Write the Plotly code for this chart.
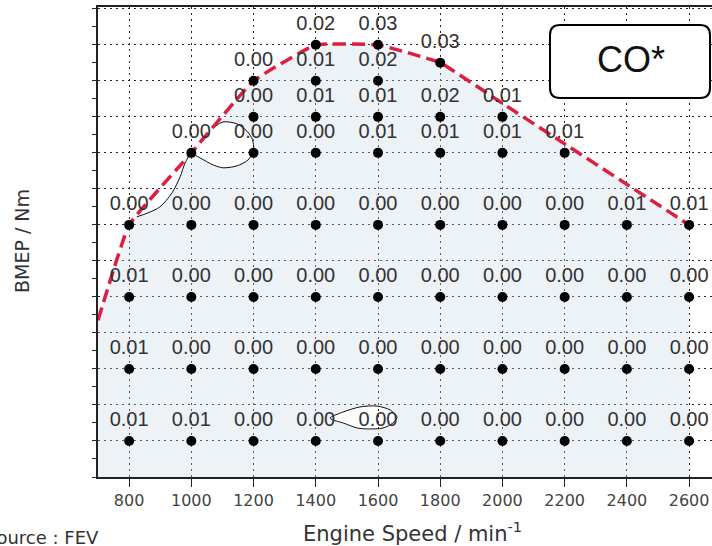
import plotly.graph_objects as go

# Measured operating points: engine speed (min^-1), BMEP level, CO value
speed = [1400, 1600,
         1800,
         1200, 1400, 1600,
         1200, 1400, 1600, 1800, 2000,
         1000, 1200, 1400, 1600, 1800, 2000, 2200,
         800, 1000, 1200, 1400, 1600, 1800, 2000, 2200, 2400, 2600,
         800, 1000, 1200, 1400, 1600, 1800, 2000, 2200, 2400, 2600,
         800, 1000, 1200, 1400, 1600, 1800, 2000, 2200, 2400, 2600,
         800, 1000, 1200, 1400, 1600, 1800, 2000, 2200, 2400, 2600]
bmep = [24, 24,
        23,
        22, 22, 22,
        20, 20, 20, 20, 20,
        18, 18, 18, 18, 18, 18, 18,
        14, 14, 14, 14, 14, 14, 14, 14, 14, 14,
        10, 10, 10, 10, 10, 10, 10, 10, 10, 10,
        6, 6, 6, 6, 6, 6, 6, 6, 6, 6,
        2, 2, 2, 2, 2, 2, 2, 2, 2, 2]
co = [0.02, 0.03,
      0.03,
      0.00, 0.01, 0.02,
      0.00, 0.01, 0.01, 0.02, 0.01,
      0.00, 0.00, 0.00, 0.01, 0.01, 0.01, 0.01,
      0.00, 0.00, 0.00, 0.00, 0.00, 0.00, 0.00, 0.00, 0.01, 0.01,
      0.01, 0.00, 0.00, 0.00, 0.00, 0.00, 0.00, 0.00, 0.00, 0.00,
      0.01, 0.00, 0.00, 0.00, 0.00, 0.00, 0.00, 0.00, 0.00, 0.00,
      0.01, 0.01, 0.00, 0.00, 0.00, 0.00, 0.00, 0.00, 0.00, 0.00]

# Full-load boundary
full_load_speed = [700, 800, 1000, 1200, 1400, 1600, 1800, 2000, 2200, 2400, 2600]
full_load_bmep = [8.7, 14, 18, 22, 24, 24, 23, 20.75, 18.5, 16.25, 14]

# Contour outlines of the low-value pockets
contour_a_speed = [1075, 1102, 1147, 1179, 1196, 1200, 1182, 1147, 1102, 1070, 1028, 1000,
                   980, 964, 938, 899, 861, 825]
contour_a_bmep = [19.45, 19.72, 19.61, 19.2, 18.75, 18.15, 17.6, 17.28, 17.17, 17.33, 17.72, 17.95,
                  17.44, 16.67, 15.78, 15.0, 14.67, 14.45]
contour_b_speed = [1446, 1488, 1542, 1597, 1639, 1661, 1648, 1616, 1565, 1533, 1488, 1455, 1446]
contour_b_bmep = [3.28, 3.61, 3.89, 3.94, 3.72, 3.33, 3.0, 2.72, 2.67, 2.72, 3.0, 3.17, 3.28]

X_RANGE = [700, 2673.6]
Y_RANGE = [0, 26.1]
LABEL_LIFT = 1.1  # label offset above each point, in BMEP units
SANS = "DejaVu Sans, sans-serif"


def signed_area(xs, ys):
    s = 0.0
    n = len(xs)
    for i in range(n):
        j = (i + 1) % n
        s += xs[i] * ys[j] - xs[j] * ys[i]
    return s / 2


def oriented(xs, ys, positive):
    a = signed_area(xs, ys)
    if (a > 0) != positive:
        return xs[::-1], ys[::-1]
    return list(xs), list(ys)


# Operating region: area under the full-load line with the pockets cut out
outer_x = full_load_speed + [full_load_speed[-1], full_load_speed[0]]
outer_y = full_load_bmep + [0, 0]
ox, oy = oriented(outer_x, outer_y, True)
ax_, ay_ = oriented(contour_a_speed, contour_a_bmep, False)
bx_, by_ = oriented(contour_b_speed, contour_b_bmep, False)
region_x = ox + [None] + ax_ + [None] + bx_
region_y = oy + [None] + ay_ + [None] + by_

fig = go.Figure()

fig.add_trace(go.Scatter(
    x=region_x, y=region_y, mode="lines", fill="toself",
    fillcolor="rgba(200,215,230,0.33)", line=dict(width=0),
    hoverinfo="skip", showlegend=False))

for cx, cy in [(contour_a_speed, contour_a_bmep), (contour_b_speed, contour_b_bmep)]:
    fig.add_trace(go.Scatter(
        x=cx, y=cy, mode="lines",
        line=dict(color="#111111", width=1, shape="spline", smoothing=0.8),
        hoverinfo="skip", showlegend=False))

fig.add_trace(go.Scatter(
    x=full_load_speed, y=full_load_bmep, mode="lines",
    line=dict(color="#dc1f3f", width=3.5, dash="13px,6px", shape="spline", smoothing=0.3),
    hoverinfo="skip", showlegend=False))

fig.add_trace(go.Scatter(
    x=speed, y=bmep, mode="markers",
    marker=dict(color="black", size=10),
    showlegend=False))

fig.add_trace(go.Scatter(
    x=speed, y=[b + LABEL_LIFT for b in bmep], mode="text",
    text=[f"{v:.2f}" for v in co], textposition="middle center",
    textfont=dict(family="Liberation Sans, Arial", size=20, color="#333333"),
    hoverinfo="skip", showlegend=False))

# Tag box with rounded corners (paper coordinates)
PLOT_W, PLOT_H = 614, 470
x0, x1 = (550 - 98) / PLOT_W, (710 - 98) / PLOT_W
y0, y1 = (477 - 98) / PLOT_H, (477 - 25) / PLOT_H
rx, ry = 10 / PLOT_W, 10 / PLOT_H
box_path = (f"M{x0 + rx},{y1} L{x1 - rx},{y1} Q{x1},{y1} {x1},{y1 - ry} "
            f"L{x1},{y0 + ry} Q{x1},{y0} {x1 - rx},{y0} "
            f"L{x0 + rx},{y0} Q{x0},{y0} {x0},{y0 + ry} "
            f"L{x0},{y1 - ry} Q{x0},{y1} {x0 + rx},{y1} Z")

fig.update_layout(
    width=712, height=546,
    margin=dict(l=98, r=0, t=7, b=69),
    paper_bgcolor="white", plot_bgcolor="white",
    font=dict(family=SANS, color="#333333"),
    shapes=[dict(type="path", xref="paper", yref="paper", path=box_path,
                 fillcolor="white", line=dict(color="black", width=2), layer="above")],
    annotations=[
        dict(text="CO*", xref="paper", yref="paper",
             x=(631 - 98) / PLOT_W, y=(477 - 59) / PLOT_H,
             xanchor="center", yanchor="middle", showarrow=False,
             font=dict(family="Liberation Sans, Arial", size=36, color="#111111")),
        dict(text="Engine Speed / min<sup>-1</sup>", xref="paper", yref="paper",
             x=(412 - 98) / PLOT_W, y=(477 - 532) / PLOT_H,
             xanchor="center", yanchor="middle", showarrow=False,
             font=dict(family=SANS, size=21, color="#333333")),
        dict(text="BMEP / Nm", xref="paper", yref="paper",
             x=(22 - 98) / PLOT_W, y=(477 - 241) / PLOT_H, textangle=-90,
             xanchor="center", yanchor="middle", showarrow=False,
             font=dict(family=SANS, size=19, color="#333333")),
        dict(text="Source : FEV", xref="paper", yref="paper",
             x=(101 - 98) / PLOT_W, y=(477 - 537) / PLOT_H,
             xanchor="right", yanchor="middle", showarrow=False,
             font=dict(family=SANS, size=18, color="#333333")),
    ],
)

fig.update_xaxes(
    range=X_RANGE, tick0=800, dtick=200,
    showline=True, linecolor="#222222", linewidth=1.5, mirror=True,
    ticks="outside", ticklen=8, tickcolor="#222222",
    tickfont=dict(family=SANS, size=16, color="#444444"),
    showgrid=True, gridcolor="#222222", gridwidth=1, griddash="2px,4px",
    zeroline=False)

fig.update_yaxes(
    range=Y_RANGE, tick0=0, dtick=2,
    showline=True, linecolor="#222222", linewidth=1.5,
    ticks="outside", ticklen=4, tickcolor="#222222",
    showticklabels=False,
    minor=dict(dtick=1, ticks="outside", ticklen=4, tickcolor="#222222", showgrid=False),
    showgrid=True, gridcolor="#222222", gridwidth=1, griddash="2px,4px",
    zeroline=False)

fig.write_html("out.html")
